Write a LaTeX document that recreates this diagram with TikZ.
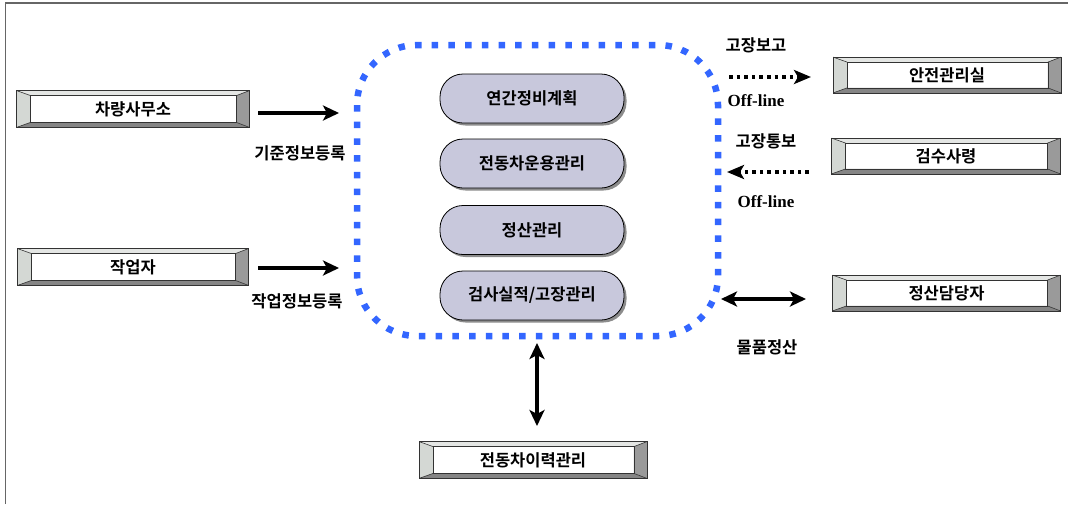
\documentclass[tikz,border=0pt]{standalone}
\usepackage{fontspec}
\setmainfont{Noto Sans CJK KR}[BoldFont={Noto Sans CJK KR Bold}]
\newfontfamily\latinserif{Liberation Serif}
\usetikzlibrary{arrows.meta,calc,shadows}

\definecolor{bevlight}{HTML}{D4D8D4}
\definecolor{bevtop}{HTML}{E4E6E4}
\definecolor{bevdark}{HTML}{9A9A9A}
\definecolor{bevbottom}{HTML}{858585}
\definecolor{pillfill}{HTML}{C8C8DC}
\definecolor{dotblue}{HTML}{3366FF}

\tikzset{
  bbox/.style={draw=black!80, line width=0.8pt, rectangle, minimum height=36pt,
    inner sep=0pt},
  pill/.style={draw=black, line width=0.8pt, fill=pillfill, rounded corners=23pt,
    minimum width=184pt, minimum height=49pt, inner sep=0pt,
    font=\fontsize{16.5}{18}\selectfont\bfseries,
    drop shadow={shadow xshift=2.5pt, shadow yshift=-2.5pt, fill=black!45, opacity=1}},
  lbl/.style={inner sep=0pt, font=\fontsize{16.5}{18}\selectfont\bfseries},
  offl/.style={inner sep=0pt, font=\fontsize{17}{18}\selectfont\latinserif\bfseries},
  tip/.style={},
  solidarrow/.style={line width=3.2pt, -{Stealth[length=16pt,width=15pt,inset=4pt]}},
  bothways/.style={line width=3.2pt, {Stealth[length=16pt,width=15pt,inset=4pt]}-{Stealth[length=16pt,width=15pt,inset=4pt]}},
  dotarrow/.style={line width=3.6pt, dash pattern=on 3.6pt off 4pt, -{Stealth[length=17pt,width=14pt,inset=4pt]}},
  region/.style={draw=dotblue, line width=6.5pt, dash pattern=on 6.5pt off 10.2pt,
    rounded corners=60pt}
}

% bevelled frame drawn round a named box: light on the left and top, dark on the right and bottom
\newcommand\bevelframe[1]{%
  \fill[bevlight] (#1.north west) -- (#1.south west) -- ($(#1.south west)+(14,-5)$) -- ($(#1.north west)+(14,5)$) -- cycle;
  \fill[bevtop] (#1.north west) -- (#1.north east) -- ($(#1.north east)+(-13,5)$) -- ($(#1.north west)+(14,5)$) -- cycle;
  \fill[bevdark] (#1.north east) -- (#1.south east) -- ($(#1.south east)+(-13,-5)$) -- ($(#1.north east)+(-13,5)$) -- cycle;
  \fill[bevbottom] (#1.south west) -- (#1.south east) -- ($(#1.south east)+(-13,-5)$) -- ($(#1.south west)+(14,-5)$) -- cycle;
  \draw[black!80, line width=0.6pt] ($(#1.north west)+(14,5)$) rectangle ($(#1.south east)+(-13,-5)$);
  \draw[black!80, line width=0.6pt] (#1.north west) -- ($(#1.north west)+(14,5)$)
     (#1.south west) -- ($(#1.south west)+(14,-5)$)
     (#1.north east) -- ($(#1.north east)+(-13,5)$)
     (#1.south east) -- ($(#1.south east)+(-13,-5)$);
  \draw[black!80, line width=0.8pt] (#1.north west) rectangle (#1.south east);
}

\begin{document}
\begin{tikzpicture}[x=1pt, y=-1pt]
\useasboundingbox (0,0) rectangle (1068,504);

% page frame
\draw[black!60, line width=1.5pt] (5.5,504) -- (5.5,3) -- (1068,3);

% source and target boxes
\node[bbox, minimum width=232pt] (office) at (133,109) {};
\node[bbox, minimum width=230pt] (worker) at (133,267) {};
\node[bbox, minimum width=227pt, minimum height=35pt] (safety) at (947,75) {};
\node[bbox, minimum width=228pt, minimum height=35pt] (inspect) at (946,156) {};
\node[bbox, minimum width=227pt, minimum height=35pt] (settle) at (946.5,293) {};
\node[bbox, minimum width=227pt] (history) at (533,460) {};
\bevelframe{office}
\bevelframe{worker}
\bevelframe{safety}
\bevelframe{inspect}
\bevelframe{settle}
\bevelframe{history}
\node[lbl] at (office) {차량사무소};
\node[lbl] at (worker) {작업자};
\node[lbl] at (safety) {안전관리실};
\node[lbl] at (inspect) {검수사령};
\node[lbl] at (settle) {정산담당자};
\node[lbl] at (history) {전동차이력관리};

% central system boundary
\draw[region] (357,45) rectangle (718,336);

% functions inside the system
\node[pill] (plan) at (532,98.5) {연간정비계획};
\node[pill] (ops) at (532,163.5) {전동차운용관리};
\node[pill] (acct) at (532,230) {정산관리};
\node[pill] (fault) at (532,295.5) {검사실적/고장관리};

% connectors
\coordinate (a1s) at (258,113);
\coordinate (a1e) at (339,113);
\draw[solidarrow] (a1s) -- (a1e);
\node[lbl] (lblbase) at (300,153) {기준정보등록};

\coordinate (a2s) at (258,268);
\coordinate (a2e) at (339,268);
\draw[solidarrow] (a2s) -- (a2e);
\node[lbl] (lblwork) at (297,301) {작업정보등록};

\coordinate (a3s) at (729,77);
\coordinate (a3e) at (811,77);
\draw[dotarrow] (a3s) -- (a3e);
\node[lbl] (lblreport) at (756,45) {고장보고};
\node[offl] (off1) at (756,101) {Off-line};

\coordinate (a4s) at (809,172);
\coordinate (a4e) at (727,172);
\draw[dotarrow] (a4s) -- (a4e);
\node[lbl] (lblnotice) at (766,141) {고장통보};
\node[offl] (off2) at (766,202) {Off-line};

\coordinate (a5s) at (721,299);
\coordinate (a5e) at (806,299);
\draw[bothways] (a5s) -- (a5e);
\node[lbl] (lblgoods) at (767,347) {물품정산};

\coordinate (a6s) at (537,343);
\coordinate (a6e) at (537,426);
\draw[bothways] (a6s) -- (a6e);
\end{tikzpicture}
\end{document}
